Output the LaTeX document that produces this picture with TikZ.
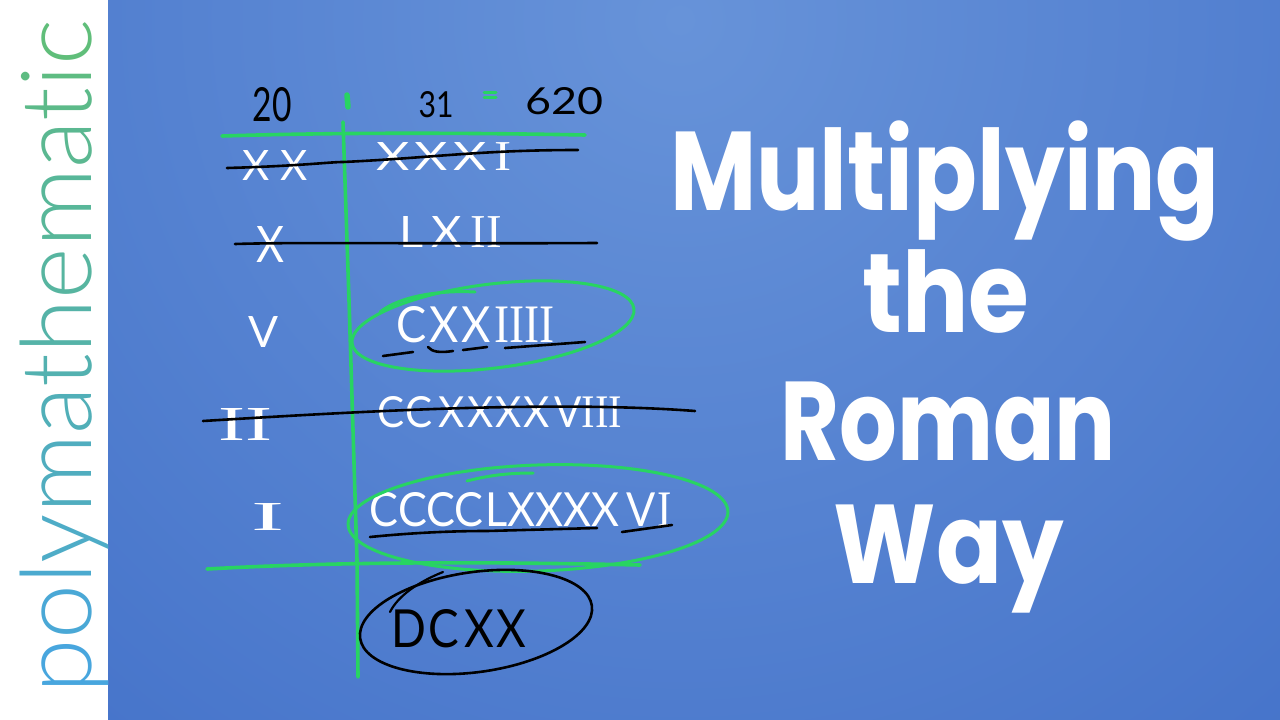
\documentclass[tikz,border=0pt]{standalone}
\usepackage{fontspec}
\usepackage{graphicx}
\setmainfont{Liberation Sans}
\newfontfamily\brandfont{Lato Light}
\newfontfamily\handfont{Lato}
\newfontfamily\serfont{Liberation Serif}
\newfontfamily\titlefont{Poppins}
\definecolor{bglight}{RGB}{103,147,217}
\definecolor{bgdark}{RGB}{52,99,194}
\definecolor{pblue}{RGB}{72,166,222}
\definecolor{pgreen}{RGB}{96,190,122}
\definecolor{hgreen}{RGB}{40,212,98}
\newcommand\bl[2]{\textcolor{pgreen!#1!pblue}{#2}}
\newcommand\hwt[3]{\resizebox{#1pt}{#2pt}{\handfont #3}}
\newcommand\sI{\scalebox{1}[1.09]{\serfont I}}
\tikzset{
  hw/.style={inner sep=0pt, text=white},
  hwb/.style={inner sep=0pt, text=black},
  grn/.style={draw=hgreen, line width=3.6pt, line cap=round, line join=round},
  blk/.style={draw=black, line width=2.6pt, line cap=round, line join=round},
  ttl/.style={text=white, font=\titlefont\bfseries\fontsize{112}{112}\selectfont, inner sep=0pt, anchor=base},
}
\begin{document}
\begin{tikzpicture}[x=1pt,y=-1pt]
\useasboundingbox (0,0) rectangle (1280,720);
% backgrounds
\fill[white] (0,0) rectangle (1280,720);
\begin{scope}
  \clip (108,0) rectangle (1280,720);
  \shade[inner color=bglight, outer color=bgdark] (680,20) circle (1450pt);
\end{scope}
% brand
\node[rotate=90, anchor=base west, inner sep=0pt] (brand) at (91,694)
  {\resizebox{674pt}{!}{\brandfont\bl{0}{p}\bl{8}{o}\bl{15}{l}\bl{23}{y}\bl{31}{m}\bl{38}{a}\bl{46}{t}\bl{54}{h}\bl{62}{e}\bl{69}{m}\bl{77}{a}\bl{85}{t}\bl{92}{i}\bl{100}{c}}};
% header
\node[hwb] (h20) at (272,105) {\hwt{39}{34}{20}};
\node[hwb] (h31) at (436,105) {\hwt{35}{26}{31}};
\node[hwb] (h620) at (564,101) {\hwt{78}{27}{620}};
\draw[grn, line width=5.5pt] (347,95) -- (348,107);
\draw[grn, line width=3pt] (484,92) -- (496,92);
\draw[grn, line width=3pt] (484,97) -- (496,97);
% table lines
\draw[grn] (222,136) .. controls (350,132) and (480,133) .. (585,135);
\draw[grn] (343,122) -- (349,300) -- (357,560) -- (358,677);
\draw[grn] (207,569) .. controls (350,561) and (500,562) .. (640,565);
% left column
\node[hw] (l1) at (275,165) {\hwt{65}{30}{X\hspace{0.25em}X}};
\node[hw] (l2) at (271,244) {\hwt{28}{36}{X}};
\node[hw] (l3) at (263,332) {\hwt{30}{31}{V}};
\node[hw] (l4) at (245,424) {\hwt{54}{32}{\sI\sI}};
\node[hw] (l5) at (268,517) {\hwt{33}{27}{\sI}};
% right column
\node[hw] (r1) at (444,156) {\hwt{135}{28}{X\hspace{0.1em}X\hspace{0.1em}X\hspace{0.15em}\sI}};
\node[hw] (r2) at (451,232) {\hwt{102}{31}{L\hspace{0.15em}X\hspace{0.2em}\sI\sI}};
\node[hw] (r3) at (476,325) {\hwt{158}{36}{C\hspace{0.05em}X\hspace{0.05em}X\hspace{0.1em}\sI\sI\sI\sI}};
\node[hw] (r4) at (500,412) {\hwt{244}{31}{C\hspace{0.02em}C\hspace{0.15em}X\hspace{0.05em}X\hspace{0.05em}X\hspace{0.05em}X\hspace{0.1em}V\sI\sI\sI}};
\node[hw] (r5) at (521,510) {\hwt{302}{34}{CCCC\hspace{0.05em}LXXXX\hspace{0.15em}V\hspace{0.05em}\sI}};
\node[hwb] (res) at (459,629) {\hwt{135}{38}{D\hspace{0.05em}C\hspace{0.12em}X\hspace{0.05em}X}};
% strike lines
\draw[blk] (227,168) .. controls (300,166) and (330,162) .. (343,162) .. controls (430,158) and (480,150) .. (578,150);
\draw[blk] (235,244) .. controls (300,242) and (400,244) .. (597,243);
\draw[blk] (203,421) .. controls (350,412) and (550,400) .. (695,411);
% underlines
\draw[blk] (383,356) -- (413,352);
\draw[blk] (428,347) .. controls (432,352) and (440,353) .. (453,351);
\draw[blk] (463,350) -- (487,347);
\draw[blk] (505,348) -- (585,342);
\draw[blk] (370,537) .. controls (420,532) and (460,531) .. (487,531) -- (597,528);
\draw[blk] (622,532) -- (672,525);
% ovals
\draw[grn, line width=3pt, rotate around={7:(493,326)}] (493,326) ellipse [x radius=142pt, y radius=42pt];
\draw[grn, line width=3pt] (380,312) .. controls (400,296) and (440,290) .. (475,292);
\draw[grn, line width=3pt, rotate around={2:(538,518)}] (538,518) ellipse [x radius=190pt, y radius=53pt];
\draw[grn, line width=3pt] (467,481) .. controls (490,475) and (510,473) .. (533,473);
\draw[blk, rotate around={8:(476,622)}] (476,622) ellipse [x radius=117pt, y radius=50pt];
\draw[blk, line width=2.2pt] (390,612) .. controls (398,596) and (418,582) .. (443,572);
% title
\node[ttl] (t1) at (945,210) {\scalebox{0.84}[1]{Multiplying}};
\node[ttl] (t2) at (946,332) {\scalebox{0.88}[1]{the}};
\node[ttl] (t3) at (948,460) {\scalebox{0.81}[1]{Roman}};
\node[ttl] (t4) at (949,583) {\scalebox{0.87}[1]{Way}};
\end{tikzpicture}
\end{document}
